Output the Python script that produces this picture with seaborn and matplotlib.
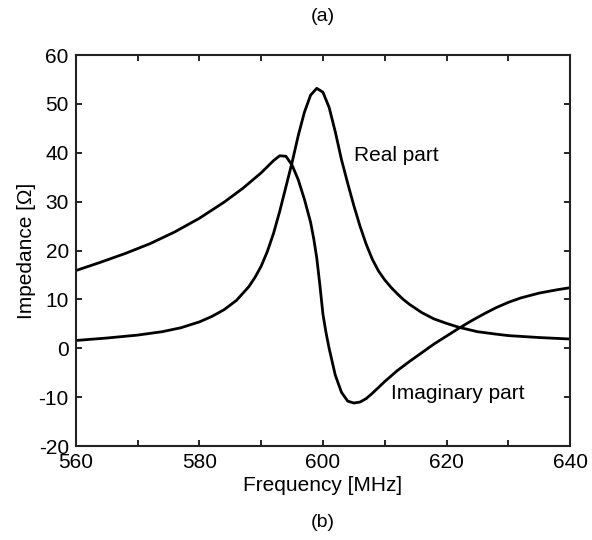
import pandas as pd
import seaborn as sns
import matplotlib.pyplot as plt
from matplotlib.ticker import MultipleLocator

# values
freq_real = [560, 565, 570, 574, 577, 580, 582, 584, 586, 588, 589, 590, 591, 592, 593, 594,
             595, 596, 597, 598, 599, 600, 601, 602, 603, 604, 605, 606, 607, 608,
             609, 610, 611, 612, 613, 614, 616, 618, 620, 622, 625, 628, 630, 635, 640]
real_part = [1.6, 2.1, 2.7, 3.4, 4.2, 5.4, 6.5, 7.9, 9.8, 12.6, 14.5, 16.8, 19.8, 23.5, 28, 33,
             38, 43.5, 48.3, 51.8, 53.2, 52.4, 49.3, 44.3, 38.6, 33.8, 29.2, 25, 21.3, 18.2,
             15.8, 14, 12.5, 11.2, 10, 9, 7.3, 6.0, 5.1, 4.3, 3.4, 2.9, 2.6, 2.2, 1.9]

freq_imag = [560, 564, 568, 572, 576, 580, 584, 587, 590, 592, 593, 594, 595,
             596, 597, 598, 598.5, 599, 599.5, 600, 600.5, 601, 602, 603, 604, 605, 606, 607,
             608, 609, 610, 612, 614, 616, 618, 620, 622, 624, 626, 628, 630, 632, 635, 638, 640]
imag_part = [15.9, 17.6, 19.4, 21.4, 23.8, 26.6, 29.9, 32.7, 35.9, 38.4, 39.4, 39.3, 37.5,
             34.5, 30.5, 25.8, 22.5, 18.5, 13, 7, 3.2, 0, -5.5, -9, -10.8, -11.2, -11, -10.3,
             -9.2, -8.0, -6.8, -4.6, -2.7, -0.9, 0.9, 2.5, 4.1, 5.6, 7.0, 8.3, 9.4, 10.3, 11.3, 12.0, 12.4]

df = pd.concat([
    pd.DataFrame({'freq': freq_real, 'z': real_part, 'part': 'Real part'}),
    pd.DataFrame({'freq': freq_imag, 'z': imag_part, 'part': 'Imaginary part'}),
])

sns.set_style('ticks')
plt.rcParams['font.family'] = ['Liberation Sans', 'DejaVu Sans']
plt.rcParams['axes.unicode_minus'] = False
plt.rcParams['text.color'] = 'black'
plt.rcParams['axes.labelcolor'] = 'black'

fig = plt.figure(figsize=(5.92, 5.40), dpi=100)
ax = fig.add_axes([0.128, 0.174, 0.835, 0.724])

sns.lineplot(data=df, x='freq', y='z', hue='part', palette=['black', 'black'],
             linewidth=2.0, sort=False, legend=False, estimator=None, ax=ax)

ax.set_xlim(560, 640)
ax.set_ylim(-20, 60)
ax.xaxis.set_major_locator(MultipleLocator(20))
ax.xaxis.set_minor_locator(MultipleLocator(10))
ax.yaxis.set_major_locator(MultipleLocator(10))
ax.tick_params(which='both', direction='in', top=True, right=True, length=4.5,
               width=1.2, labelsize=15, colors='black', pad=5)
for s in ax.spines.values():
    s.set_linewidth(1.5)
    s.set_color('#222222')

ax.set_xlabel('Frequency [MHz]', fontsize=15, labelpad=3, color='black')
ax.set_ylabel('Impedance [Ω]', fontsize=15, labelpad=2, color='black')

ax.text(605.0, 39.5, 'Real part', fontsize=15, va='center', ha='left')
ax.text(611.0, -9.3, 'Imaginary part', fontsize=15, va='center', ha='left')

fig.text(0.545, 0.97, '(a)', fontsize=14, ha='center', va='center')
fig.text(0.545, 0.032, '(b)', fontsize=14, ha='center', va='center')

plt.savefig('out.png', dpi=100)
